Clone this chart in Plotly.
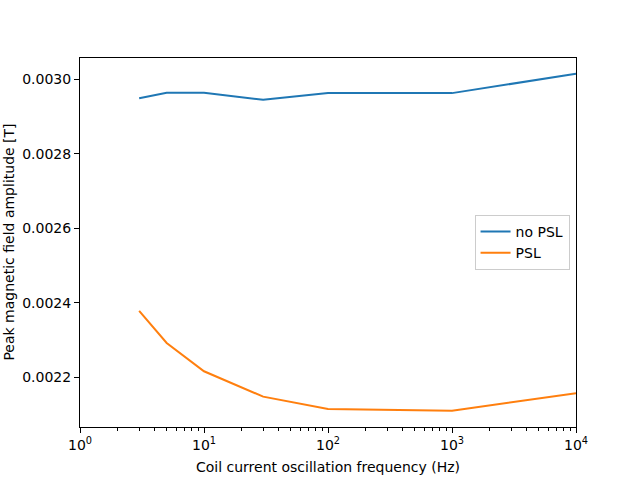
import plotly.graph_objects as go

freq = [3, 5, 10, 30, 100, 1000, 10000]
no_psl = [0.002949, 0.002964, 0.002964, 0.002945, 0.002963, 0.002963, 0.003015]
psl = [0.002378, 0.002292, 0.002216, 0.002148, 0.002115, 0.002110, 0.002157]
xtick_vals = [1, 10, 100, 1000, 10000]
xtick_text = ["10<sup>0</sup>", "10<sup>1</sup>", "10<sup>2</sup>", "10<sup>3</sup>", "10<sup>4</sup>"]
xminor_vals = [m * d for d in [1, 10, 100, 1000] for m in range(2, 10)]
ytick_vals = [0.0022, 0.0024, 0.0026, 0.0028, 0.0030]

fig = go.Figure()
fig.add_trace(go.Scatter(x=freq, y=no_psl, mode="lines", name="no PSL",
                         line=dict(color="#1f77b4", width=2)))
fig.add_trace(go.Scatter(x=freq, y=psl, mode="lines", name="PSL",
                         line=dict(color="#ff7f0e", width=2)))

fs = 14
font = dict(family="DejaVu Sans", size=fs, color="black")
fig.update_layout(
    width=640, height=480,
    margin=dict(l=80, r=64, t=58, b=53),
    paper_bgcolor="white", plot_bgcolor="white",
    font=font,
    showlegend=True,
    legend=dict(x=0.987, y=0.5, xanchor="right", yanchor="middle",
                bordercolor="#cccccc", borderwidth=1, bgcolor="white",
                tracegroupgap=0, font=dict(family="DejaVu Sans", size=fs)),
    xaxis=dict(type="log", range=[0, 4], tickvals=xtick_vals, ticktext=xtick_text,
               automargin=False, tickfont=font,
               showline=True, linecolor="black", linewidth=1, mirror=True,
               ticks="outside", ticklen=5, tickcolor="black", showgrid=False, zeroline=False,
               minor=dict(tickvals=xminor_vals, ticks="outside", ticklen=3,
                          tickcolor="black", showgrid=False),
               title=dict(text="Coil current oscillation frequency (Hz)", font=font, standoff=10)),
    yaxis=dict(range=[0.0020664, 0.0030573], tickvals=ytick_vals, tickformat=".4f",
               automargin=False, tickfont=font,
               showline=True, linecolor="black", linewidth=1, mirror=True,
               ticks="outside", ticklen=5, tickcolor="black", showgrid=False, zeroline=False),
    annotations=[dict(text="Peak magnetic field amplitude [T]", textangle=-90,
                      xref="paper", yref="paper", x=-0.145, y=0.5,
                      xanchor="center", yanchor="middle", showarrow=False, font=font)],
)
fig.write_html("out.html", config={"displayModeBar": False},
               post_script="document.body.style.margin='0px';")
